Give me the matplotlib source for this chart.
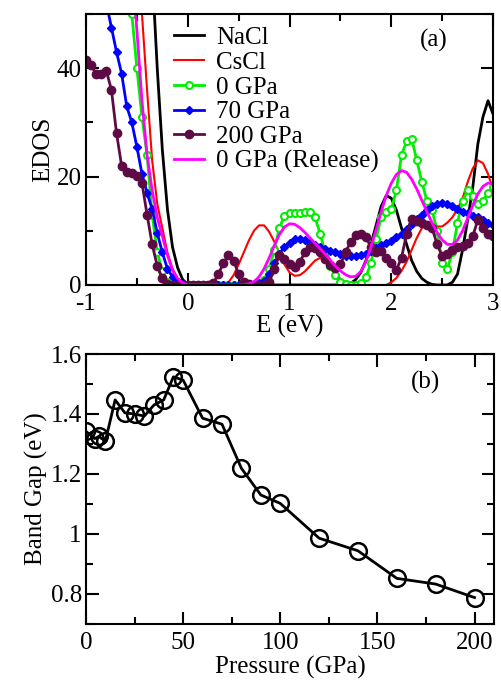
import numpy as np
import matplotlib
matplotlib.use("Agg")
import matplotlib.pyplot as plt
from matplotlib.ticker import MultipleLocator

plt.rcParams["font.family"] = ["Liberation Serif", "DejaVu Serif"]
plt.rcParams["axes.unicode_minus"] = False

# ---- panel (a): EDOS, energy grid -1..3 eV, step 0.05 (10 values per row = 0.5 eV)
energy = np.linspace(-1.0, 3.0, 81)

nacl = [150, 150, 150, 150, 150, 150, 150, 150, 150, 150,
        150, 90, 70, 58, 40, 25, 14, 7, 3.2, 1,
        0.1, 0, 0, 0, 0, 0, 0, 0, 0, 0,
        0, 0, 0, 0, 0, 0, 0, 0, 0, 0,
        0, 0, 0, 0, 0, 0, 0, 0, 0, 0,
        0, 0, 0.3, 1, 2.3, 4.5, 7.5, 11, 14.5, 16.5,
        16, 13.8, 10.5, 7.5, 4.5, 2.5, 1.2, 0.5, 0.1, 0,
        0, 0, 0.5, 2, 6.5, 12, 18, 26, 31, 34,
        31.5]

cscl = [150, 150, 150, 150, 150, 150, 150, 150, 150, 100,
        70, 50, 36, 23, 15, 10.5, 6, 3, 1.2, 0.3,
        0, 0, 0, 0, 0, 0, 0, 0, 0.5, 1.8,
        3.8, 6, 8.2, 10, 11, 11, 9.8, 8, 5.8, 3.8,
        2.3, 1.7, 1.8, 2.5, 3.5, 4.5, 5, 4.6, 3.5, 2.2,
        1.1, 0.5, 0.2, 0, 0, 0, 0, 0, 0, 0,
        0.5, 1.3, 2.6, 4.3, 6.5, 8.7, 10.5, 11.5, 11.3, 10.8,
        10.8, 11.5, 12.5, 14, 16, 19, 21.5, 23, 22.5, 20.5,
        17.5]

gpa0 = [150, 150, 150, 150, 150, 150, 120, 90, 62, 50,
        40, 31, 24, 13, 6, 2.5, 0.5, 0.1, 0, 0,
        0, 0, 0, 0, 0, 0, 0, 0, 0, 0,
        0, 0, 0, 0, 0.3, 1, 3, 6.5, 10.5, 12.8,
        13.3, 13.3, 13.3, 13.5, 13.5, 12.5, 9.5, 6, 3.5, 1.8,
        0.5, 0.1, 0, 0, 0.3, 1.5, 4, 8.5, 12.5, 13.5,
        14, 17.5, 24, 26.5, 27, 23, 19, 15.5, 13.8, 10,
        4, 3, 6, 11.5, 15.5, 17.5, 16.5, 15, 15.5, 17,
        18]

gpa70 = [90, 80, 70, 62, 52, 47.5, 43, 39, 33, 30,
         25.5, 20.5, 17, 14, 9.6, 6, 3, 1.5, 0.6, 0.2,
         0, 0, 0, 0, 0, 0, 0, 0, 0, 0,
         0, 0, 0, 0, 0.3, 0.8, 2, 4, 5.8, 7,
         7.8, 8.4, 8.5, 8.3, 7.8, 7.4, 7, 6.6, 6.3, 6,
         5.7, 5.4, 5.3, 5.3, 5.5, 5.8, 6.3, 6.8, 7.3, 7.8,
         8.2, 8.8, 9.5, 10.3, 11.3, 12.2, 13, 13.8, 14.5, 15,
         15.1, 15, 14.6, 14, 13.5, 13.2, 12.8, 12.5, 12, 11.5,
         11]

gpa200 = [41.5, 40.5, 39, 39, 39.5, 36, 28, 22, 20.8, 20.7,
          20.2, 18.8, 13, 7.5, 3.5, 1.2, 0.2, 0, 0, 0,
          0, 0, 0, 0, 0, 0.3, 2, 4, 5.6, 4.5,
          2, 0.5, 0.1, 0, 0, 0, 0.5, 3, 5.5, 4.8,
          3.8, 3.4, 4.2, 6, 7, 6.8, 6, 4.8, 3.6, 3.2,
          3.8, 6, 8, 9.2, 9.5, 8.8, 7, 6, 6.3, 5,
          4, 2.8, 5, 9.5, 12.2, 11.8, 11.5, 11, 10.5, 7.5,
          5.3, 5.8, 6.5, 7, 7.2, 7.8, 9, 12, 10.5, 9.5,
          9]

release = [150, 150, 150, 150, 150, 150, 150, 150, 150, 60,
           47, 34, 24, 17.5, 12.5, 9, 5.5, 2.7, 1.2, 0.4,
           0, 0, 0, 0, 0, 0, 0, 0, 0, 0,
           0, 0, 0.2, 0.6, 1.5, 3, 5, 7.3, 9.3, 10.7,
           11.3, 11.2, 10.6, 9.7, 8.7, 7.7, 6.7, 5.7, 4.6, 3.5,
           2.6, 1.9, 1.5, 1.6, 2.5, 4.3, 7, 10.2, 13.5, 16.5,
           18.8, 20.4, 21.1, 20.8, 19.5, 17.7, 15.6, 13.5, 11.5, 9.7,
           8.3, 7.5, 7.5, 8.3, 10, 12.3, 14.7, 16.8, 18.2, 18.8,
           18.7]

# ---- panel (b): band gap vs pressure
pressure = [0, 4.5, 6.5, 10, 15, 20, 25, 30, 35, 40, 45, 50, 60, 70, 80,
            90, 100, 120, 140, 160, 180, 200]
band_gap = [1.342, 1.318, 1.325, 1.31, 1.447, 1.404, 1.40, 1.393, 1.43,
            1.447, 1.524, 1.513, 1.386, 1.366, 1.219, 1.13, 1.102, 0.986,
            0.944, 0.852, 0.833, 0.788]

fig = plt.figure(figsize=(5.02, 6.8), dpi=100)
ax1 = fig.add_axes([0.1713, 0.5809, 0.811, 0.3985])
ax2 = fig.add_axes([0.1713, 0.0824, 0.8127, 0.397])

ax1.plot(energy, nacl, color="black", lw=2, label="NaCl")
ax1.plot(energy, cscl, color="red", lw=1.5, label="CsCl")
ax1.plot(energy, gpa0, color="#00ee00", lw=2, marker="o", ms=5,
         mfc="white", mew=1.5, label="0 GPa")
ax1.plot(energy, gpa70, color="blue", lw=2, marker="D", ms=4,
         label="70 GPa")
ax1.plot(energy, gpa200, color="#5e0b45", lw=2, marker="o", ms=6,
         label="200 GPa")
ax1.plot(energy, release, color="magenta", lw=2, label="0 GPa (Release)")

ax1.set_xlim(-1, 3)
ax1.set_ylim(0, 50)
ax1.xaxis.set_major_locator(MultipleLocator(1))
ax1.xaxis.set_minor_locator(MultipleLocator(0.5))
ax1.yaxis.set_major_locator(MultipleLocator(20))
ax1.yaxis.set_minor_locator(MultipleLocator(10))
ax1.set_xlabel("E (eV)", fontsize=18, labelpad=0)
ax1.set_ylabel("EDOS", fontsize=18, labelpad=2)
ax1.text(0.853, 0.904, "(a)", transform=ax1.transAxes, fontsize=18,
         ha="center", va="center")
ax1.legend(loc="upper left", bbox_to_anchor=(0.185, 1.0), frameon=False,
           fontsize=18, handlelength=1.2, handletextpad=0.5,
           labelspacing=0.09, borderaxespad=0.1)

ax2.plot(pressure, band_gap, color="black", lw=2, marker="o", ms=12,
         mfc="none", mew=1.8)
ax2.set_xlim(0, 210)
ax2.set_ylim(0.7, 1.6)
ax2.xaxis.set_major_locator(MultipleLocator(50))
ax2.xaxis.set_minor_locator(MultipleLocator(25))
ax2.yaxis.set_minor_locator(MultipleLocator(0.1))
ax2.set_yticks([0.8, 1.0, 1.2, 1.4, 1.6])
ax2.set_yticklabels(["0.8", "1", "1.2", "1.4", "1.6"])
ax2.set_xlabel("Pressure (GPa)", fontsize=18, labelpad=1)
ax2.set_ylabel("Band Gap (eV)", fontsize=18, labelpad=2)
ax2.text(0.831, 0.896, "(b)", transform=ax2.transAxes, fontsize=18,
         ha="center", va="center")

for ax in (ax1, ax2):
    for s in ax.spines.values():
        s.set_linewidth(1.5)
    ax.tick_params(which="both", direction="in", top=True, right=True,
                   width=1.5, labelsize=18)
    ax.tick_params(which="major", length=9)
    ax.tick_params(which="minor", length=5)
    ax.tick_params(axis="x", pad=6)
    ax.tick_params(axis="y", pad=3)

fig.savefig("out.png", dpi=100)
